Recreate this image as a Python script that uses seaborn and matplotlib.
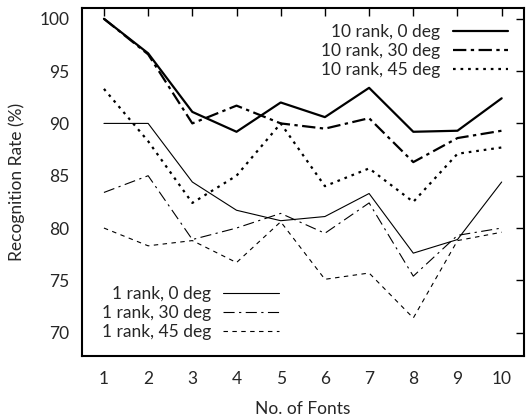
import numpy as np
import pandas as pd
import matplotlib
matplotlib.use("Agg")
import matplotlib.pyplot as plt
import seaborn as sns

fonts = list(range(1, 11))

rank10_0 = [100.0, 96.7, 91.1, 89.2, 92.0, 90.6, 93.4, 89.2, 89.3, 92.4]
rank10_30 = [100.0, 96.6, 90.0, 91.7, 90.0, 89.5, 90.5, 86.3, 88.6, 89.3]
rank10_45 = [93.3, 88.3, 82.4, 85.0, 90.0, 84.0, 85.7, 82.5, 87.1, 87.7]
rank1_0 = [90.0, 90.0, 84.4, 81.7, 80.7, 81.1, 83.3, 77.6, 78.9, 84.4]
rank1_30 = [83.4, 85.0, 78.9, 80.0, 81.4, 79.5, 82.4, 75.4, 79.3, 80.0]
rank1_45 = [80.0, 78.3, 78.8, 76.7, 80.6, 75.1, 75.7, 71.4, 78.8, 79.6]

labels = ["10 rank, 0 deg", "10 rank, 30 deg", "10 rank, 45 deg",
          "1 rank, 0 deg", "1 rank, 30 deg", "1 rank, 45 deg"]
series = [rank10_0, rank10_30, rank10_45, rank1_0, rank1_30, rank1_45]

df = pd.DataFrame({
    "fonts": fonts * len(labels),
    "rate": sum(series, []),
    "series": np.repeat(labels, len(fonts)),
})

sns.set_style("white")
plt.rcParams["font.family"] = ["Lato", "DejaVu Sans"]
fs = 12.5

fig = plt.figure(figsize=(5.28, 4.16), dpi=100)
ax = fig.add_axes([0.155, 0.145, 0.837, 0.835])

styles = {
    "10 rank, 0 deg": ("-", 1.6),
    "10 rank, 30 deg": ((0, (6, 2, 1.5, 2)), 1.6),
    "10 rank, 45 deg": ((0, (1.2, 2.2)), 1.6),
    "1 rank, 0 deg": ("-", 0.8),
    "1 rank, 30 deg": ((0, (10, 4, 2, 4)), 0.8),
    "1 rank, 45 deg": ((0, (4, 4)), 0.8),
}

handles = {}
for lab in labels:
    ls, lw = styles[lab]
    sub = df[df["series"] == lab]
    sns.lineplot(data=sub, x="fonts", y="rate", ax=ax, color="black",
                 linewidth=lw, linestyle=ls, label=lab, legend=False)
    handles[lab] = ax.get_lines()[-1]

ax.set_xlim(0.5, 10.5)
ax.set_ylim(67.8, 101)
ax.set_xticks(fonts)
ax.set_yticks(range(70, 101, 5))
ax.set_xlabel("No. of Fonts", fontsize=fs, labelpad=10)
ax.set_ylabel("Recognition Rate (%)", fontsize=fs, labelpad=10)
ax.tick_params(direction="in", length=6, width=1, top=True, right=True,
               labelsize=fs, color="black")
ax.tick_params(axis="x", pad=11)
ax.tick_params(axis="y", pad=9)
for s in ax.spines.values():
    s.set_linewidth(1.5)
    s.set_color("black")

leg1 = ax.legend([handles[l] for l in labels[:3]], labels[:3], loc="upper right",
                 frameon=False, markerfirst=False, handlelength=3.2,
                 labelspacing=0.17, borderaxespad=0.5, handletextpad=0.7,
                 fontsize=fs)
ax.add_artist(leg1)
ax.legend([handles[l] for l in labels[3:]], labels[3:], loc="lower left",
          bbox_to_anchor=(0.01, 0.0), frameon=False, markerfirst=False,
          handlelength=3.2, labelspacing=0.17, borderaxespad=0.5,
          handletextpad=0.7, fontsize=fs)

fig.savefig("out.png", dpi=100)
